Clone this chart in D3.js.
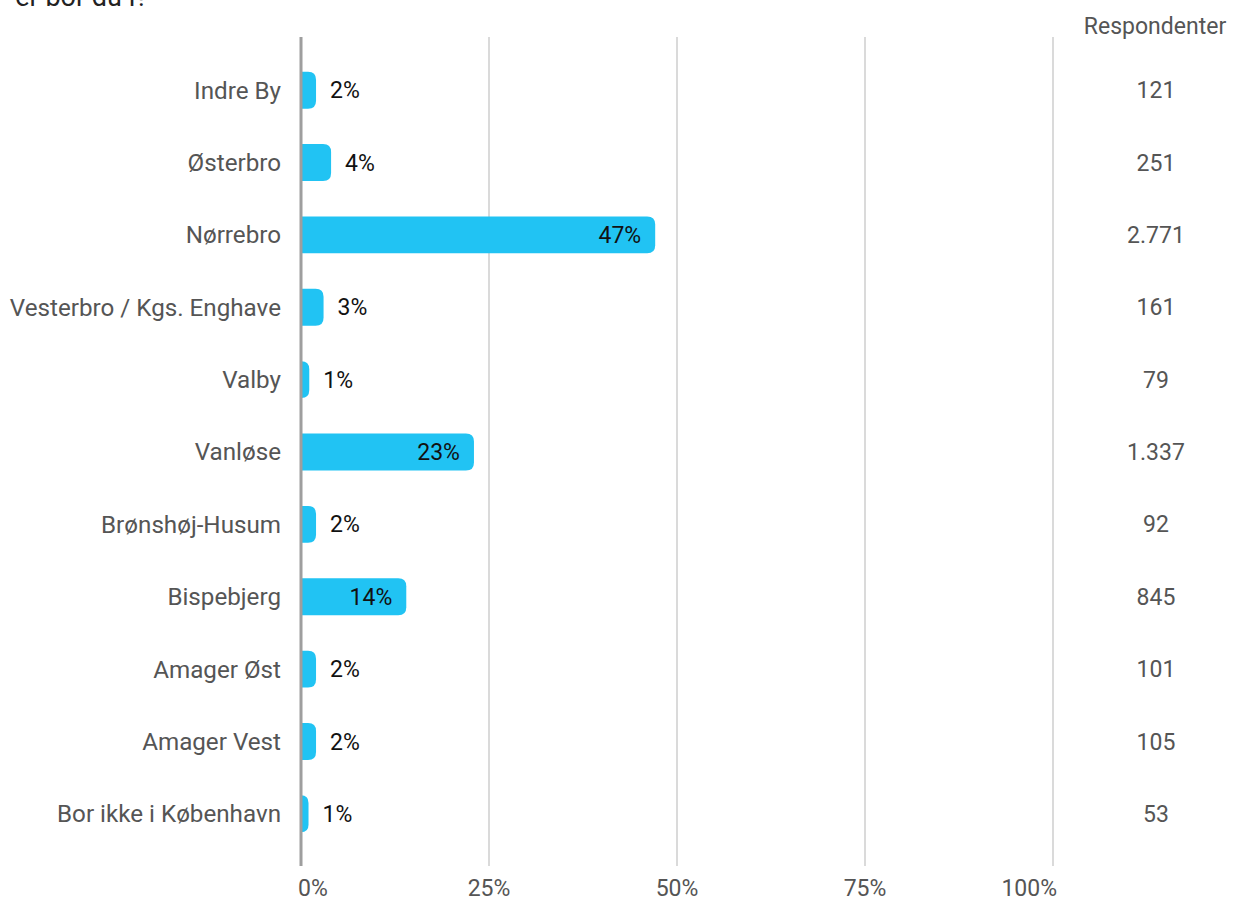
<!DOCTYPE html>
<html><head><meta charset="utf-8">
<script src="https://cdn.jsdelivr.net/npm/d3@7"></script>
<style>body{margin:0;background:#fff;font-family:Roboto,sans-serif}</style>
</head><body><svg id="c" width="1247" height="901"></svg>
<script>
const categories = ["Indre By","Østerbro","Nørrebro","Vesterbro / Kgs. Enghave","Valby","Vanløse","Brønshøj-Husum","Bispebjerg","Amager Øst","Amager Vest","Bor ikke i København"];
const shares = [2.0,4.0,47.1,3.0,1.1,23.0,2.0,14.0,2.0,2.0,1.0];
const shareLabels = ["2%","4%","47%","3%","1%","23%","2%","14%","2%","2%","1%"];
const respondents = ["121","251","2.771","161","79","1.337","92","845","101","105","53"];
const ticks = [0,25,50,75,100];
const tickLabels = ["0%","25%","50%","75%","100%"];
const title = "er bor du i?";
const colHeader = "Respondenter";

const svg = d3.select("#c");
const x = d3.scaleLinear().domain([0,100]).range([301,1053]);
const y = d3.scaleBand().domain(categories).range([54,850]).paddingInner(0.49).paddingOuter(0.245);

svg.append("text").attr("x",148).attr("y",6).attr("text-anchor","end")
  .attr("font-size",27).attr("fill","#222").text(title);

// gridlines
svg.selectAll("line.g").data(ticks.slice(1)).join("line")
  .attr("x1",d=>x(d)).attr("x2",d=>x(d)).attr("y1",37).attr("y2",866)
  .attr("stroke","#b5b5b5").attr("stroke-width",1);

svg.selectAll("text.t").data(ticks).join("text")
  .attr("x",d=>d===0 ? x(d)+12 : d===100 ? x(d)+4 : x(d))
  .attr("y",896)
  .attr("text-anchor",d=>d===100?"end":"middle")
  .attr("font-size",23).attr("fill","#555").text((d,i)=>tickLabels[i]);

// bars
const bh = y.bandwidth();
function barPath(d){
  const x0 = x(0), x1 = x(d.v), yy = y(d.c), w = x1-x0;
  const r = Math.min(8, w, bh/2);
  return `M${x0},${yy}H${x1-r}Q${x1},${yy} ${x1},${yy+r}V${yy+bh-r}Q${x1},${yy+bh} ${x1-r},${yy+bh}H${x0}Z`;
}
const data = categories.map((c,i)=>({c,v:shares[i],l:shareLabels[i],n:respondents[i]}));
svg.selectAll("path.b").data(data).join("path").attr("d",barPath).attr("fill","#21c3f3");

svg.append("line").attr("x1",x(0)).attr("x2",x(0)).attr("y1",37).attr("y2",866)
  .attr("stroke","#9e9e9e").attr("stroke-width",3);

svg.selectAll("text.v").data(data).join("text")
  .attr("x",d=>d.v>10 ? x(d.v)-14 : x(d.v)+14)
  .attr("y",d=>y(d.c)+bh/2).attr("dy","0.35em")
  .attr("text-anchor",d=>d.v>10?"end":"start")
  .attr("font-size",23).attr("fill","#111").text(d=>d.l);

svg.selectAll("text.c").data(data).join("text")
  .attr("x",281).attr("y",d=>y(d.c)+bh/2).attr("dy","0.35em").attr("text-anchor","end")
  .attr("font-size",24.2).attr("fill","#555").text(d=>d.c);

svg.selectAll("text.n").data(data).join("text")
  .attr("x",1156).attr("y",d=>y(d.c)+bh/2).attr("dy","0.35em").attr("text-anchor","middle")
  .attr("font-size",23).attr("fill","#555").text(d=>d.n);

svg.append("text").attr("x",1155).attr("y",34).attr("text-anchor","middle")
  .attr("font-size",23).attr("fill","#555").text(colHeader);
</script></body></html>
